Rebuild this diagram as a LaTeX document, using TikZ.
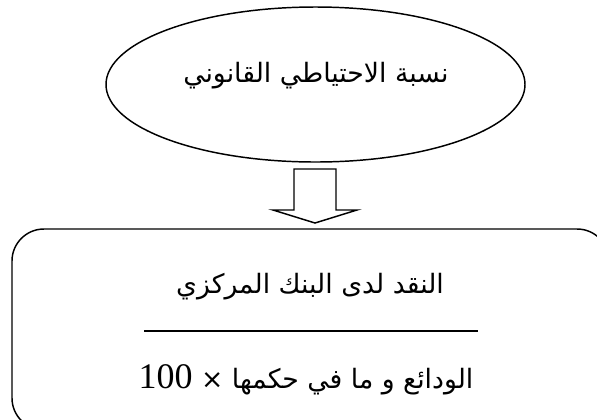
\documentclass[tikz,border=0pt]{standalone}
\usepackage{fontspec}
\usetikzlibrary{shapes.geometric}
\TeXXeTstate=1
\newfontfamily\arabicfont[Script=Arabic]{DejaVu Sans}
\newfontfamily\latinfont{Liberation Serif}
\begin{document}
\begin{tikzpicture}[x=0.75pt,y=-0.75pt,
  frame/.style={draw=black,line width=1.1pt},
  artext/.style={inner sep=0pt,font=\arabicfont\fontsize{20}{24}\selectfont}]
\useasboundingbox (0,0) rectangle (597,419);
\clip (0,0) rectangle (597,419);
% ellipse
\node[frame,ellipse,minimum width=314.25pt,minimum height=116.25pt,inner sep=0pt] (e) at (315.5,84.5) {};
\node[artext] (et) at (316,76) {\beginR نسبة الاحتياطي القانوني\endR};
% block arrow
\coordinate (a1) at (294,169);
\coordinate (a2) at (336,169);
\coordinate (a3) at (336,210);
\coordinate (a4) at (357,210);
\coordinate (tip) at (315,223);
\coordinate (a6) at (273,210);
\coordinate (a7) at (294,210);
\draw[frame,line join=miter] (a1) -- (a2) -- (a3) -- (a4) -- (tip) -- (a6) -- (a7) -- cycle;
% rounded rectangle
\coordinate (r1) at (12,229);
\coordinate (r2) at (609,430);
\draw[frame,rounded corners=24pt] (r1) rectangle (r2);
% fraction
\node[artext] (num) at (310,287) {\beginR النقد لدى البنك المركزي\endR};
\coordinate (l1) at (144,331);
\coordinate (l2) at (478,331);
\draw[line width=1.1pt] (l1) -- (l2);
\node[artext] (den) at (306,380) {\beginR الودائع و ما في حكمها × \beginL{\latinfont\fontsize{27}{30}\selectfont 100}\endL\endR};
\end{tikzpicture}
\end{document}
